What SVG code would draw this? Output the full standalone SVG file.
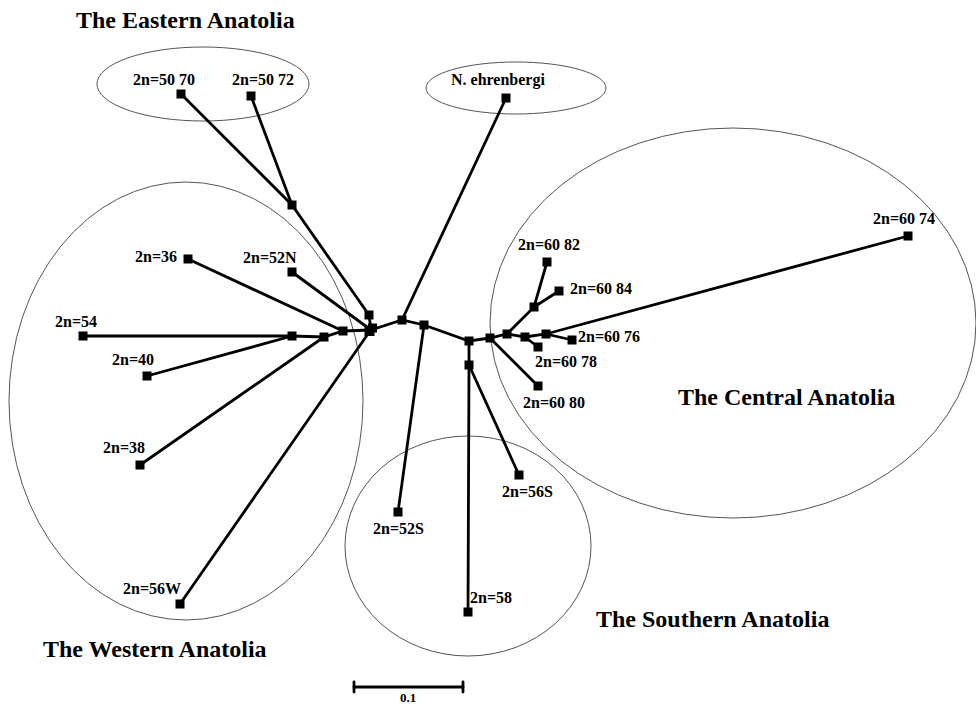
<svg xmlns="http://www.w3.org/2000/svg" width="976" height="704" viewBox="0 0 976 704">
<style>
.reg{fill:none;stroke:#555;stroke-width:1}
.e{stroke:#000;stroke-width:2.8;fill:none;stroke-linecap:round}
.n{fill:#000}
.lb{font-family:"Liberation Serif","Times New Roman",serif;font-weight:bold;font-size:16px;fill:#000}
.rt{font-family:"Liberation Serif","Times New Roman",serif;font-weight:bold;font-size:24px;fill:#000}
</style>
<rect width="976" height="704" fill="#fff"/>
<g id="regions">
<ellipse class="reg" cx="203" cy="84" rx="106" ry="37"/>
<ellipse class="reg" cx="516" cy="88" rx="90" ry="26"/>
<ellipse class="reg" cx="186" cy="401" rx="177" ry="219"/>
<ellipse class="reg" cx="733" cy="323" rx="243" ry="195"/>
<ellipse class="reg" cx="468" cy="546" rx="123" ry="110"/>
</g>
<g id="region-labels">
<text class="rt" x="76" y="28">The Eastern Anatolia</text>
<text class="rt" x="43" y="657">The Western Anatolia</text>
<text class="rt" x="678" y="405">The Central Anatolia</text>
<text class="rt" x="596" y="627">The Southern Anatolia</text>
</g>
<g id="connectors">
<polyline class="e" points="181,94 292,205 369,315 371,330"/>
<line class="e" x1="251" y1="96" x2="292" y2="205"/>
<line class="e" x1="188" y1="259" x2="343" y2="331"/>
<line class="e" x1="292" y1="272" x2="371" y2="330"/>
<polyline class="e" points="83,336 292,336 324,337 343,331 371,330"/>
<line class="e" x1="147" y1="376" x2="292" y2="336"/>
<line class="e" x1="140" y1="465" x2="324" y2="337"/>
<line class="e" x1="180" y1="604" x2="370" y2="331"/>
<polyline class="e" points="371,330 402,320 424,325 469,341 490,338 507,334 525,337 546,334 908,236"/>
<line class="e" x1="402" y1="320" x2="506" y2="98"/>
<line class="e" x1="424" y1="325" x2="398" y2="512"/>
<polyline class="e" points="469,341 469,365 468,612"/>
<line class="e" x1="469" y1="365" x2="519" y2="475"/>
<line class="e" x1="490" y1="338" x2="538" y2="386"/>
<polyline class="e" points="507,334 534,307 547,262"/>
<line class="e" x1="534" y1="307" x2="559" y2="291"/>
<line class="e" x1="525" y1="337" x2="538" y2="347"/>
<line class="e" x1="546" y1="334" x2="572" y2="340"/>
</g>
<g id="nodes">
<g id="n5070"><rect class="n" x="176.5" y="89.5" width="9" height="9"/><text class="lb" x="133" y="85">2n=50 70</text></g>
<g id="n5072"><rect class="n" x="246.5" y="91.5" width="9" height="9"/><text class="lb" x="232" y="85">2n=50 72</text></g>
<g id="nehr"><rect class="n" x="501.5" y="93.5" width="9" height="9"/><text class="lb" x="451" y="85">N. ehrenbergi</text></g>
<g id="n36"><rect class="n" x="183.5" y="254.5" width="9" height="9"/><text class="lb" x="135" y="262">2n=36</text></g>
<g id="n52N"><rect class="n" x="287.5" y="267.5" width="9" height="9"/><text class="lb" x="243" y="263">2n=52N</text></g>
<g id="n54"><rect class="n" x="78.5" y="331.5" width="9" height="9"/><text class="lb" x="55" y="327">2n=54</text></g>
<g id="n40"><rect class="n" x="142.5" y="371.5" width="9" height="9"/><text class="lb" x="112" y="365">2n=40</text></g>
<g id="n38"><rect class="n" x="135.5" y="460.5" width="9" height="9"/><text class="lb" x="103" y="453">2n=38</text></g>
<g id="n56W"><rect class="n" x="175.5" y="599.5" width="9" height="9"/><text class="lb" x="123" y="594">2n=56W</text></g>
<g id="n52S"><rect class="n" x="393.5" y="507.5" width="9" height="9"/><text class="lb" x="373" y="534">2n=52S</text></g>
<g id="n56S"><rect class="n" x="514.5" y="470.5" width="9" height="9"/><text class="lb" x="502" y="497">2n=56S</text></g>
<g id="n58"><rect class="n" x="463.5" y="607.5" width="9" height="9"/><text class="lb" x="470" y="603">2n=58</text></g>
<g id="n6082"><rect class="n" x="542.5" y="257.5" width="9" height="9"/><text class="lb" x="518" y="250">2n=60 82</text></g>
<g id="n6084"><rect class="n" x="554.5" y="286.5" width="9" height="9"/><text class="lb" x="570" y="294">2n=60 84</text></g>
<g id="n6076"><rect class="n" x="567.5" y="335.5" width="9" height="9"/><text class="lb" x="578" y="342">2n=60 76</text></g>
<g id="n6078"><rect class="n" x="533.5" y="342.5" width="9" height="9"/><text class="lb" x="535" y="367">2n=60 78</text></g>
<g id="n6080"><rect class="n" x="533.5" y="381.5" width="9" height="9"/><text class="lb" x="523" y="408">2n=60 80</text></g>
<g id="n6074"><rect class="n" x="903.5" y="231.5" width="9" height="9"/><text class="lb" x="873" y="224">2n=60 74</text></g>
<g id="internal">
<rect class="n" x="287.5" y="200.5" width="9" height="9"/>
<rect class="n" x="364.5" y="310.5" width="9" height="9"/>
<rect class="n" x="287.5" y="331.5" width="9" height="9"/>
<rect class="n" x="319.5" y="332.5" width="9" height="9"/>
<rect class="n" x="338.5" y="326.5" width="9" height="9"/>
<rect class="n" x="364.5" y="326" width="10" height="10"/>
<rect class="n" x="368" y="323.5" width="9" height="9"/>
<rect class="n" x="397.5" y="315.5" width="9" height="9"/>
<rect class="n" x="419.5" y="320.5" width="9" height="9"/>
<rect class="n" x="464.5" y="336.5" width="9" height="9"/>
<rect class="n" x="464.5" y="360.5" width="9" height="9"/>
<rect class="n" x="485.5" y="333.5" width="9" height="9"/>
<rect class="n" x="502.5" y="329.5" width="9" height="9"/>
<rect class="n" x="529.5" y="302.5" width="9" height="9"/>
<rect class="n" x="520.5" y="332.5" width="9" height="9"/>
<rect class="n" x="541.5" y="329.5" width="9" height="9"/>
</g>
</g>
<g id="scale">
<line class="e" x1="354" y1="687" x2="463" y2="687" stroke-linecap="butt"/>
<line class="e" x1="354" y1="682" x2="354" y2="692" stroke-linecap="butt"/>
<line class="e" x1="463" y1="682" x2="463" y2="692" stroke-linecap="butt"/>
<text class="lb" x="400" y="702" style="font-size:13px">0.1</text>
</g>
</svg>
